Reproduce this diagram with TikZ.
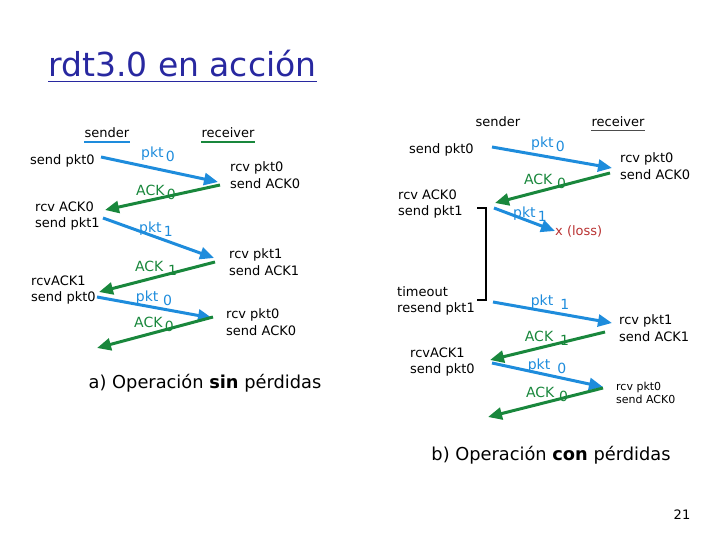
\documentclass[tikz,border=0pt]{standalone}
\usepackage{fontspec}
\setmainfont{DejaVu Sans}
\usetikzlibrary{arrows.meta}
\definecolor{pktblue}{RGB}{30,140,220}
\definecolor{ackgreen}{RGB}{25,135,60}
\definecolor{titleblue}{RGB}{40,40,160}
\definecolor{lossred}{RGB}{185,50,50}
\newcommand\lowsub[1]{\,\raisebox{-0.5ex}{#1}}
\tikzset{
  evt/.style={anchor=west, align=left, inner sep=0pt, font=\fontsize{13}{16.5}\selectfont},
  hdr/.style={inner sep=0pt, font=\fontsize{13}{16}\selectfont},
  pktarrow/.style={draw=pktblue, line width=3pt, -{Triangle[length=14pt,width=12pt]}},
  ackarrow/.style={draw=ackgreen, line width=3pt, -{Triangle[length=14pt,width=12pt]}},
  pktlbl/.style={inner sep=0pt, text=pktblue, font=\fontsize{14}{16}\selectfont},
  acklbl/.style={inner sep=0pt, text=ackgreen, font=\fontsize{14}{16}\selectfont},
  caption/.style={inner sep=0pt, font=\fontsize{17.8}{20}\selectfont}
}
\begin{document}
\begin{tikzpicture}[x=1pt, y=-1pt]
    \useasboundingbox (0,0) rectangle (720,540);

    % titolo
    \node[anchor=west, inner sep=0pt, text=titleblue, font=\fontsize{33}{36}\selectfont] (title) at (48,64) {rdt3.0 en acción};
    \draw[titleblue, line width=1.2pt] ([yshift=-4pt]title.south west) -- ([yshift=-4pt]title.south east);

    % a) senza perdite
    \node[hdr] (sndA) at (107,133) {sender};
    \node[hdr] (rcvA) at (228,133) {receiver};
    \draw[pktblue, line width=2pt] ([yshift=-4pt]sndA.south west) -- ([yshift=-4pt]sndA.south east);
    \draw[ackgreen, line width=2pt] ([yshift=-4pt]rcvA.south west) -- ([yshift=-4pt]rcvA.south east);

    \node[evt] (sA1) at (30,161) {send pkt0};
    \node[evt] (rA1) at (230,175) {rcv pkt0\\send ACK0};
    \node[evt] (sA2) at (35,216) {rcv ACK0\\send pkt1};
    \node[evt] (rA2) at (229,262) {rcv pkt1\\send ACK1};
    \node[evt] (sA3) at (31,290) {rcvACK1\\send pkt0};
    \node[evt] (rA3) at (226,322) {rcv pkt0\\send ACK0};

    \coordinate (a1) at (101,157); \coordinate (a2) at (218,182);
    \coordinate (a3) at (220,185); \coordinate (a4) at (105,210);
    \coordinate (a5) at (103,218); \coordinate (a6) at (214,258);
    \coordinate (a7) at (215,262); \coordinate (a8) at (99,292);
    \coordinate (a9) at (97,297);  \coordinate (a10) at (212,318);
    \coordinate (a11) at (213,317); \coordinate (a12) at (97,348);
    \draw[pktarrow] (a1) -- (a2);
    \draw[ackarrow] (a3) -- (a4);
    \draw[pktarrow] (a5) -- (a6);
    \draw[ackarrow] (a7) -- (a8);
    \draw[pktarrow] (a9) -- (a10);
    \draw[ackarrow] (a11) -- (a12);

    \node[pktlbl] (lA1) at (158,154) {pkt\lowsub{0}};
    \node[acklbl] (lA2) at (156,192) {ACK\lowsub{0}};
    \node[pktlbl] (lA3) at (156,229) {pkt\lowsub{1}};
    \node[acklbl] (lA4) at (156,268) {ACK\,\lowsub{1}};
    \node[pktlbl] (lA5) at (154,298) {pkt\,\lowsub{0}};
    \node[acklbl] (lA6) at (154,324) {ACK\lowsub{0}};

    \node[caption] (capA) at (205,383) {a) Operación \textbf{sin} pérdidas};

    % b) con perdite
    \node[hdr] (sndB) at (498,122) {sender};
    \node[hdr] (rcvB) at (618,122) {receiver};
    \draw[black!70, line width=0.6pt] ([yshift=-3pt]rcvB.south west) -- ([yshift=-3pt]rcvB.south east);

    \node[evt] (sB1) at (409,150) {send pkt0};
    \node[evt] (rB1) at (620,166) {rcv pkt0\\send ACK0};
    \node[evt] (sB2) at (398,204) {rcv ACK0\\send pkt1};
    \node[evt, text=lossred] (loss) at (555,231) {x (loss)};
    \node[evt] (sB3) at (397,301) {timeout\\resend pkt1};
    \node[evt] (rB2) at (619,328) {rcv pkt1\\send ACK1};
    \node[evt] (sB4) at (410,362) {rcvACK1\\send pkt0};
    \node[evt, font=\fontsize{11}{13}\selectfont] (rB3) at (616,393) {rcv pkt0\\send ACK0};

    % timeout
    \coordinate (t1) at (477,208); \coordinate (t2) at (486,208);
    \coordinate (t3) at (486,300); \coordinate (t4) at (477,300);
    \draw[black, line width=1.6pt] (t1) -- (t2) -- (t3) -- (t4);

    \coordinate (b1) at (492,147); \coordinate (b2) at (612,168);
    \coordinate (b3) at (610,173); \coordinate (b4) at (495,203);
    \coordinate (b5) at (494,208);
    \coordinate (b7) at (493,302); \coordinate (b8) at (612,323);
    \coordinate (b9) at (605,332); \coordinate (b10) at (490,360);
    \coordinate (b11) at (492,363); \coordinate (b12) at (603,387);
    \coordinate (b13) at (603,388); \coordinate (b14) at (488,417);
    \draw[pktarrow] (b1) -- (b2);
    \draw[ackarrow] (b3) -- (b4);
    \draw[pktarrow] (b5) -- (loss.west);
    \draw[pktarrow] (b7) -- (b8);
    \draw[ackarrow] (b9) -- (b10);
    \draw[pktarrow] (b11) -- (b12);
    \draw[ackarrow] (b13) -- (b14);

    \node[pktlbl] (lB1) at (548,144) {pkt\lowsub{0}};
    \node[acklbl] (lB2) at (545,181) {ACK\,\lowsub{0}};
    \node[pktlbl] (lB3) at (530,214) {pkt\lowsub{1}};
    \node[pktlbl] (lB4) at (550,302) {pkt\,\,\lowsub{1}};
    \node[acklbl] (lB5) at (547,338) {ACK\,\,\lowsub{1}};
    \node[pktlbl] (lB6) at (547,366) {pkt\,\,\lowsub{0}};
    \node[acklbl] (lB7) at (547,394) {ACK\,\lowsub{0}};

    \node[caption] (capB) at (551,455) {b) Operación \textbf{con} pérdidas};
    \node[inner sep=0pt, font=\fontsize{13}{16}\selectfont] (pagenum) at (682,515) {21};
\end{tikzpicture}
\end{document}
